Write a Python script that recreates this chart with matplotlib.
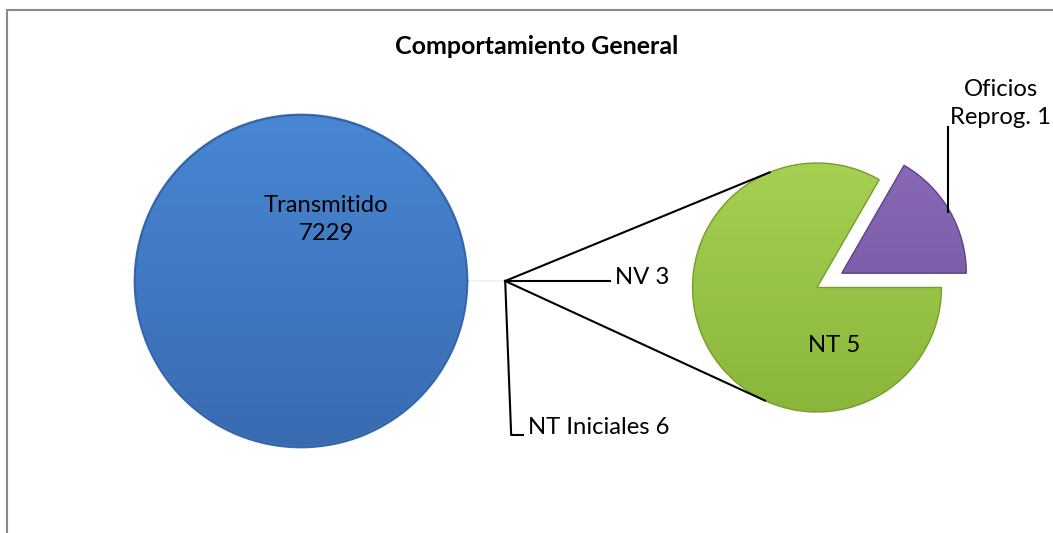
import numpy as np
import matplotlib.pyplot as plt
from matplotlib.patches import Rectangle, Circle
from matplotlib.colors import LinearSegmentedColormap

plt.rcParams['font.family'] = ['Lato', 'DejaVu Sans']

# Data
title = "Comportamiento General"
main_labels = ["Transmitido", "NV", "NT Iniciales"]
main_values = [7229, 3, 6]
sub_labels = ["Oficios\nReprog.", "NT"]
sub_values = [1, 5]

# Geometry (pixel-like data coords, y up)
W, H = 1053, 533
main_center = (301, 252)
main_radius = 166
sub_center = (817, 245.5)
sub_radius = 124.5
explode_frac = 0.23

colors_main = [("#4b8bd9", "#3766ab"), ("#eeeeee", "#e4e4e4"), ("#eeeeee", "#e4e4e4")]
colors_sub = [("#8d6dbb", "#6a4c97"), ("#a9d456", "#86b236")]
edge_main = ["#4179c2", "none", "none"]
edge_sub = ["#5c4385", "#769e2c"]


def gradient_fill(ax, wedge, top, bottom, cx, cy, r):
    cmap = LinearSegmentedColormap.from_list("g", [bottom, top])
    grad = np.linspace(0, 1, 256).reshape(-1, 1)
    im = ax.imshow(grad, cmap=cmap, origin="lower", aspect="auto",
                   extent=(cx - r, cx + r, cy - r, cy + r),
                   zorder=wedge.get_zorder() - 0.1)
    im.set_clip_path(wedge)


fig = plt.figure(figsize=(W / 100, H / 100), dpi=100)
ax = fig.add_axes([0, 0, 1, 1])

# chart border
ax.add_patch(Rectangle((6.5, -20), W + 40, H - 10 + 20, fill=False,
                       edgecolor="#8a8a8a", linewidth=1.5, zorder=0))

ax.text(537, H - 47, title, ha="center", va="center", fontsize=18,
        fontweight="bold")

# main pie: small slices centred on the right (0 degrees), "other" exploded
total = sum(main_values)
start = (main_values[1] + main_values[2]) / total * 180
expl = explode_frac * main_radius
wedges_main, _ = ax.pie(main_values, startangle=start, center=main_center,
                        radius=main_radius, explode=[0, expl, expl],
                        frame=True)
for w, (top, bot), ec, z in zip(wedges_main, colors_main, edge_main, [2, 1, 1]):
    w.set_facecolor("none")
    w.set_edgecolor(ec)
    w.set_linewidth(2.0)
    w.set_zorder(z)
    gradient_fill(ax, w, top, bot, main_center[0], main_center[1], main_radius * 1.3)
ax.add_patch(Circle(main_center, main_radius, fill=False, edgecolor="#33619f",
                    linewidth=1.0, zorder=2.5))

# secondary pie
wedges_sub, _ = ax.pie(sub_values, startangle=0, center=sub_center,
                       radius=sub_radius, explode=[explode_frac * sub_radius, 0],
                       frame=True)
for w, (top, bot), ec in zip(wedges_sub, colors_sub, edge_sub):
    w.set_facecolor("none")
    w.set_edgecolor(ec)
    w.set_linewidth(1.0)
    w.set_zorder(2)
    gradient_fill(ax, w, top, bot, sub_center[0], sub_center[1], sub_radius * 1.3)

ax.set_xlim(0, W)
ax.set_ylim(0, H)
ax.set_aspect("auto")
ax.axis("off")

# series lines: from tip of exploded "other" slice, tangent to secondary pie
px = main_center[0] + main_radius * (1 + explode_frac)
py = main_center[1]
dx, dy = sub_center[0] - px, sub_center[1] - py
d = np.hypot(dx, dy)
base = np.arctan2(-dy, -dx)
a = np.arccos(sub_radius / d)
for ang in (base - a, base + a):
    tx = sub_center[0] + sub_radius * np.cos(ang)
    ty = sub_center[1] + sub_radius * np.sin(ang)
    ax.plot([px, tx], [py, ty], color="black", lw=1.5, zorder=3)

# data labels
fs = 17.2
ax.text(326, H - 219.5, f"{main_labels[0]}\n{main_values[0]}", ha="center",
        va="center", fontsize=fs, linespacing=1.45, zorder=5)

ax.plot([px, 610], [py, py], color="black", lw=1.5, zorder=3)
ax.text(615, py + 4, f"{main_labels[1]} {main_values[1]}", ha="left",
        va="center", fontsize=fs, zorder=5)

ax.plot([px, px + 6, 523], [py, H - 435, H - 435], color="black", lw=1.5, zorder=3)
ax.text(528, H - 428, f"{main_labels[2]} {main_values[2]}", ha="left",
        va="center", fontsize=fs, zorder=5)

ax.text(834, H - 345, f"{sub_labels[1]} {sub_values[1]}", ha="center",
        va="center", fontsize=fs, zorder=5)

ax.plot([948, 948], [H - 127, H - 212], color="black", lw=1.5, zorder=3)
ax.text(1001, H - 103.5, f"{sub_labels[0]} {sub_values[0]}", ha="center",
        va="center", fontsize=fs, linespacing=1.45, zorder=5)

fig.savefig("out.png", dpi=100)
